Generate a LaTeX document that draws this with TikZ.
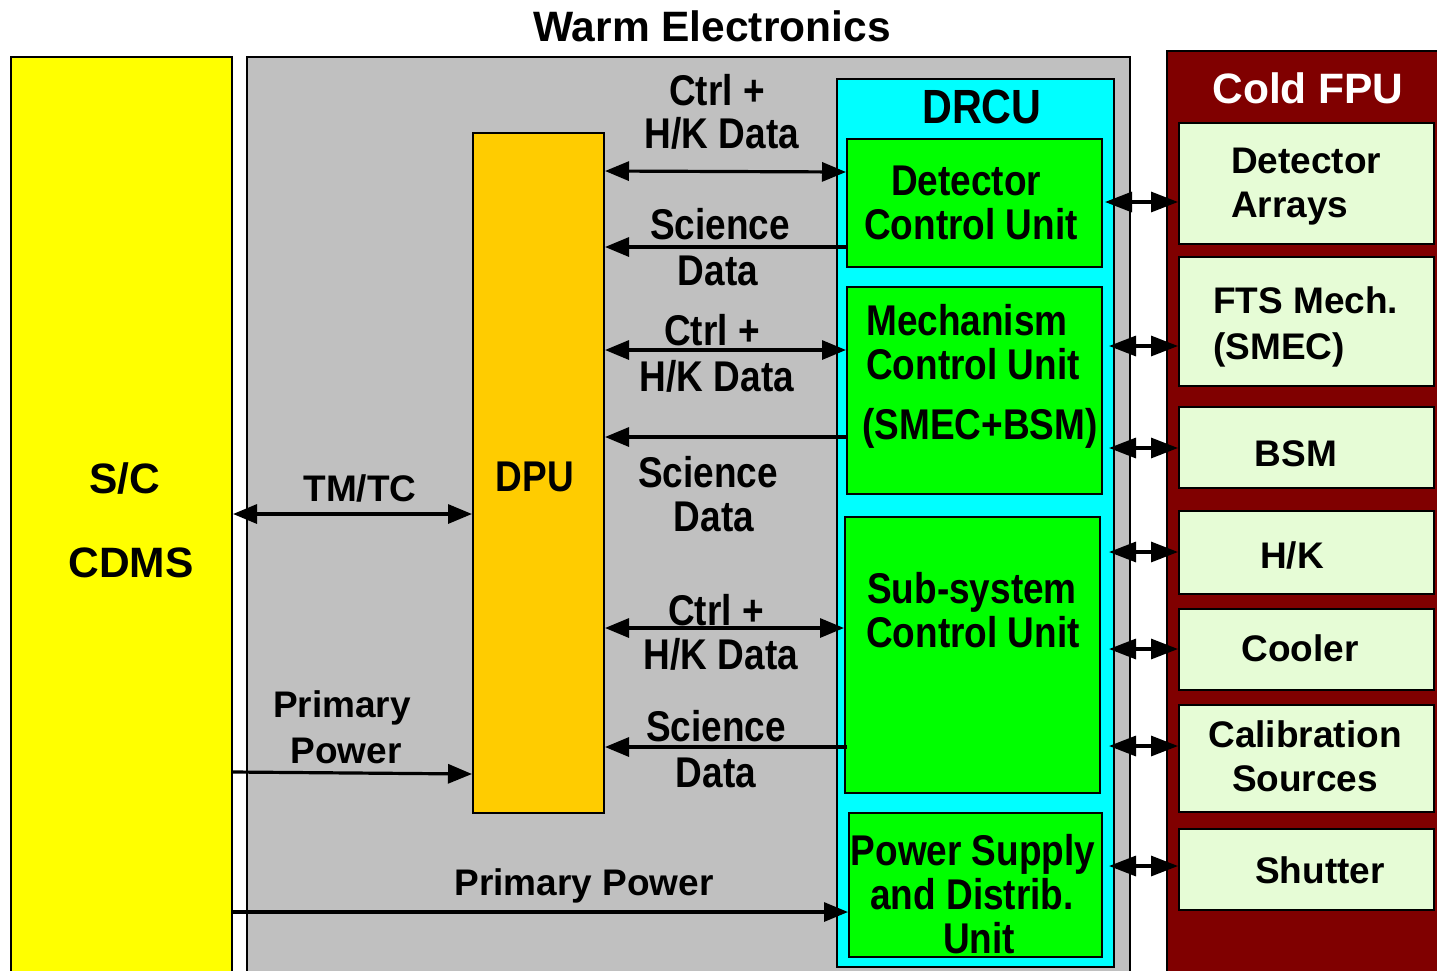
\documentclass[tikz,border=0pt]{standalone}
\usepackage{fontspec}
\setmainfont{Liberation Sans}
\newfontfamily\narfont{Liberation Sans}[FakeStretch=0.86]
\usetikzlibrary{arrows.meta}
\definecolor{scyellow}{HTML}{FFFF00}
\definecolor{warmgray}{HTML}{C0C0C0}
\definecolor{dpuorange}{HTML}{FFCC00}
\definecolor{drcucyan}{HTML}{00FFFF}
\definecolor{unitgreen}{HTML}{00FF00}
\definecolor{coldred}{HTML}{800000}
\definecolor{fpulight}{HTML}{E6FCD6}
\tikzset{
  box/.style={draw=black, line width=2pt, inner sep=0pt, anchor=north west},
  nt/.style={anchor=base, inner sep=0pt, font=\narfont\bfseries\fontsize{43}{44}\selectfont},
  wt/.style={anchor=base, inner sep=0pt, font=\bfseries\fontsize{37}{44}\selectfont},
  tt/.style={anchor=base, inner sep=0pt, font=\bfseries\fontsize{42.5}{48}\selectfont},
  conn/.style={line width=3.2pt},
  arr/.style={conn, -{Triangle[length=24pt,width=19pt]}},
  darr/.style={conn, {Triangle[length=24pt,width=19pt]}-{Triangle[length=24pt,width=19pt]}},
  rarr/.style={conn, {Triangle[length=27pt,width=20pt]}-{Triangle[length=27pt,width=20pt]}}
}
\newcommand{\boxat}[6]{\node[box, fill=#2, minimum width=#5pt-#3pt, minimum height=#6pt-#4pt] (#1) at (#3,#4) {};}
\begin{document}
\begin{tikzpicture}[x=1pt, y=-1pt]
\useasboundingbox (0,0) rectangle (1437,970);
\clip (0,0) rectangle (1437,970);
\fill[white] (0,0) rectangle (1437,970);
% main boxes
\boxat{sc}{scyellow}{10}{56}{231}{1000}
\boxat{warm}{warmgray}{246}{56}{1129}{1000}
\boxat{dpu}{dpuorange}{472}{132}{603}{812}
\boxat{drcu}{drcucyan}{836}{78}{1113}{966}
\boxat{dcu}{unitgreen}{846}{138}{1101}{266}
\boxat{mcu}{unitgreen}{846}{286}{1101}{493}
\boxat{scu}{unitgreen}{844}{516}{1099}{792}
\boxat{psu}{unitgreen}{848}{812}{1101}{956}
\boxat{cold}{coldred}{1166}{50}{1460}{1000}
\boxat{det}{fpulight}{1178}{122}{1433}{243}
\boxat{fts}{fpulight}{1178}{256}{1433}{385}
\boxat{bsm}{fpulight}{1178}{406}{1433}{487}
\boxat{hk}{fpulight}{1178}{510}{1433}{593}
\boxat{cool}{fpulight}{1178}{608}{1433}{689}
\boxat{cal}{fpulight}{1178}{704}{1433}{811}
\boxat{shut}{fpulight}{1178}{828}{1433}{909}
% titles
\node[tt] (twarm) at (712,41) {Warm Electronics};
\node[tt, text=white] (tcold) at (1308,103) {Cold FPU};
\node[nt, font=\narfont\bfseries\fontsize{48}{50}\selectfont] (tdrcu) at (982,123) {DRCU};
\node[tt] (tsc) at (125,493) {S/C};
\node[tt] (tcdms) at (131,577) {CDMS};
\node[nt] (tdpu) at (535,491.5) {DPU};
% DRCU unit texts
\node[nt] (l1) at (966,195.5) {Detector};
\node[nt] (l2) at (971,239.5) {Control Unit};
\node[nt] (l3) at (967,335.5) {Mechanism};
\node[nt] (l4) at (973,379.5) {Control Unit};
\node[nt] (l5) at (980,439.5) {(SMEC+BSM)};
\node[nt] (l6) at (972,603.5) {Sub-system};
\node[nt] (l7) at (973,647.5) {Control Unit};
\node[nt] (l8) at (973,865.5) {Power Supply};
\node[nt] (l9) at (972,909.5) {and Distrib.};
\node[nt] (l10) at (979,953.5) {Unit};
% cold FPU texts
\node[wt, anchor=base west] (f1) at (1231,173) {Detector};
\node[wt, anchor=base west] (f2) at (1231,217) {Arrays};
\node[wt, anchor=base west] (f3) at (1213,313) {FTS Mech.};
\node[wt, anchor=base west] (f4) at (1213,359) {(SMEC)};
\node[wt] (f5) at (1296,466) {BSM};
\node[wt] (f6) at (1292,568) {H/K};
\node[wt] (f7) at (1300,661) {Cooler};
\node[wt] (f8) at (1305,747) {Calibration};
\node[wt] (f9) at (1305,791) {Sources};
\node[wt] (f10) at (1320,883) {Shutter};
% connector labels
\node[nt] (c1a) at (717,105.5) {Ctrl +};
\node[nt] (c1b) at (722,148.5) {H/K Data};
\node[nt] (s1a) at (720,239.5) {Science};
\node[nt] (s1b) at (718,285.5) {Data};
\node[nt] (c2a) at (712,345.5) {Ctrl +};
\node[nt] (c2b) at (717,391.5) {H/K Data};
\node[nt] (s2a) at (708,487.5) {Science};
\node[nt] (s2b) at (714,531.5) {Data};
\node[nt] (c3a) at (716,625.5) {Ctrl +};
\node[nt] (c3b) at (721,669.5) {H/K Data};
\node[nt] (s3a) at (716,741.5) {Science};
\node[nt] (s3b) at (716,787.5) {Data};
\node[wt] (ttm) at (360,501) {TM/TC};
\node[wt] (pp1) at (342,717) {Primary};
\node[wt] (pp2) at (346,763) {Power};
\node[wt] (pp3) at (584,895) {Primary Power};
% connectors DPU <-> DRCU
\draw[darr] (dpu.east |- 0,171) -- (dcu.west |- 0,172);
\draw[arr] (dcu.west |- 0,247) -- (dpu.east |- 0,247);
\draw[darr] (dpu.east |- 0,350) -- (mcu.west |- 0,350);
\draw[arr] (mcu.west |- 0,437) -- (dpu.east |- 0,437);
\draw[darr] (dpu.east |- 0,628) -- (scu.west |- 0,628);
\draw[arr] ([xshift=3pt]scu.west |- 0,747) -- (dpu.east |- 0,747);
% S/C connectors
\draw[darr] (sc.east |- 0,514) -- (dpu.west |- 0,514);
\draw[arr] (sc.east |- 0,772) -- (dpu.west |- 0,774);
\draw[arr] (sc.east |- 0,912) -- (psu.west |- 0,912);
% DRCU <-> Cold FPU
\draw[rarr] ([xshift=2pt]dcu.east |- 0,202) -- (det.west |- 0,202);
\draw[rarr] ([xshift=6pt]mcu.east |- 0,346) -- (fts.west |- 0,346);
\draw[rarr] ([xshift=6pt]mcu.east |- 0,448) -- (bsm.west |- 0,448);
\draw[rarr] ([xshift=8pt]scu.east |- 0,552) -- (hk.west |- 0,552);
\draw[rarr] ([xshift=8pt]scu.east |- 0,649) -- (cool.west |- 0,649);
\draw[rarr] ([xshift=8pt]scu.east |- 0,746) -- (cal.west |- 0,746);
\draw[rarr] ([xshift=6pt]psu.east |- 0,866) -- (shut.west |- 0,866);
\end{tikzpicture}
\end{document}
